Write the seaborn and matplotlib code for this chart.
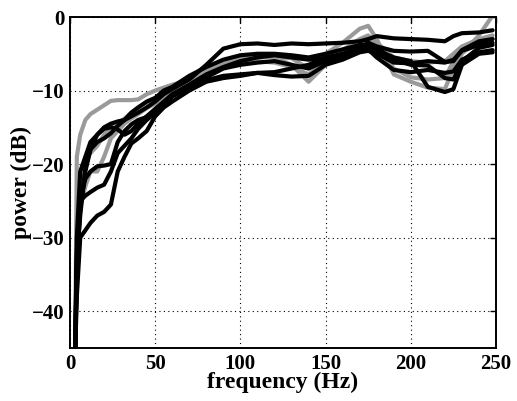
import matplotlib
matplotlib.use("Agg")
import matplotlib.pyplot as plt
import seaborn as sns

freq = [3, 4, 6, 9, 12, 16, 20, 24, 28, 32, 36, 40, 45, 50, 55, 60, 70, 80, 90, 100,
        110, 120, 130, 140, 150, 160, 170, 175, 180, 190, 200, 210, 220, 225, 230, 240, 248]

# gray curves
gray_1 = [-46, -19, -16, -14, -13.2, -12.6, -12, -11.4, -11.3, -11.3, -11.3, -11.2, -10.5, -10.0, -9.6, -9.2,
          -8.6, -7.2, -6.2, -5.6, -5.4, -5.4, -5.6, -7.0, -5.0, -3.5, -1.6, -1.2, -3.0, -7.8, -8.8, -9.6,
          -9.8, -7.0, -5.0, -2.5, 0.2]
gray_2 = [-46, -28, -22, -19.5, -18.5, -17.5, -16, -15, -14.5, -13.8, -13, -12.3, -11.6, -11.0, -10.4, -9.8,
          -8.8, -7.6, -6.3, -5.6, -5.4, -5.5, -6.5, -8.8, -6.5, -4.5, -3.0, -2.5, -3.5, -5.5, -6.0, -6.2,
          -6.0, -5.0, -4.0, -3.0, -2.5]
gray_3 = [-46, -30, -26, -23, -21, -21, -19, -16.5, -15.5, -14.5, -13.8, -13.2, -12.4, -11.8, -10.8, -10.0,
          -9.0, -8.0, -6.6, -6.2, -6.0, -6.2, -6.8, -7.8, -6.0, -5.0, -3.8, -3.0, -4.0, -7.0, -8.2, -8.5,
          -8.3, -6.0, -4.8, -3.6, -3.0]

# black curves
black_1 = [-46, -34, -26, -21, -18, -16, -15, -14.5, -14.2, -14, -13.5, -13, -12.3, -11.5, -10.5, -9.8,
           -8.5, -6.5, -4.3, -3.7, -3.6, -3.8, -3.6, -3.7, -3.6, -3.5, -3.3, -3.0, -2.6, -2.9, -3.0, -3.1,
           -3.3, -2.6, -2.2, -2.1, -1.8]
black_2 = [-46, -38, -30, -29, -28, -27, -26.5, -25.5, -21, -19, -17.2, -16.5, -15.5, -13.5, -12.3, -11.5,
           -10.0, -8.8, -8.3, -8.0, -7.6, -7.5, -7.0, -6.5, -5.5, -5.0, -4.2, -4.0, -4.5, -5.5, -6.0, -9.5,
           -10.2, -9.8, -6.5, -5.0, -4.8]
black_3 = [-46, -32, -25, -22, -21, -20.3, -20.2, -20, -17, -15.5, -14.6, -14, -13.6, -13.4, -12.2, -10.7,
           -9.4, -8.6, -8.0, -7.8, -7.6, -7.9, -8.1, -8.0, -6.5, -5.8, -4.8, -4.6, -5.0, -6.2, -6.3, -6.0,
           -6.2, -5.8, -4.6, -3.8, -3.5]
black_4 = [-46, -30, -21, -19, -17, -16, -15.2, -15, -15.3, -16, -15.5, -14.5, -13.5, -12.5, -11.5, -10.5,
           -9.2, -7.8, -6.8, -6.0, -5.5, -5.2, -5.5, -5.8, -5.6, -5.2, -4.2, -3.5, -4.0, -4.6, -4.7, -4.6,
           -6.1, -6.0, -4.5, -3.3, -3.0]
black_5 = [-46, -35, -25, -24.3, -23.8, -23.2, -22.8, -21, -18.5, -17.5, -16.5, -15.2, -14, -13, -11.8, -10.8,
           -9.6, -8.2, -7.0, -6.5, -6.2, -6.0, -6.5, -7.0, -6.0, -5.5, -4.6, -4.4, -5.5, -7.2, -7.5, -7.2,
           -7.6, -7.4, -5.8, -4.8, -4.5]
black_6 = [-46, -33, -27, -20.5, -18, -17, -16.5, -15.8, -14.8, -14.0, -13.0, -12.3, -11.5, -11.0, -10.0, -9.5,
           -8.0, -6.8, -5.8, -5.2, -5.0, -5.0, -5.2, -5.5, -5.0, -4.4, -3.8, -3.8, -4.2, -5.8, -6.5, -6.6,
           -8.3, -8.5, -6.0, -4.2, -3.8]

gray_curves = [gray_1, gray_2, gray_3]
black_curves = [black_1, black_2, black_3, black_4, black_5, black_6]

xticks = [0, 50, 100, 150, 200, 250]
yticks = [-40, -30, -20, -10, 0]

sns.set_style("white")
plt.rcParams["font.family"] = ["Liberation Serif", "DejaVu Serif"]
plt.rcParams["text.color"] = "black"
plt.rcParams["axes.labelcolor"] = "black"
plt.rcParams["xtick.color"] = "black"
plt.rcParams["ytick.color"] = "black"

fig = plt.figure(figsize=(5.17, 4.01), dpi=100)
ax = fig.add_axes([0.1354, 0.1322, 0.824, 0.8254])

for vals in gray_curves:
    sns.lineplot(x=freq, y=vals, ax=ax, color="#9a9a9a", lw=3.0, estimator=None, sort=False)
for vals in black_curves:
    sns.lineplot(x=freq, y=vals, ax=ax, color="black", lw=3.0, estimator=None, sort=False)

ax.set_xlim(0, 250)
ax.set_ylim(-45, 0)
ax.set_xticks(xticks)
ax.set_yticks(yticks)
ax.set_xticklabels([str(t) for t in xticks], fontsize=15, fontweight="bold")
ax.set_yticklabels([f"\u2212{abs(t)}" if t < 0 else str(t) for t in yticks], fontsize=15, fontweight="bold")
ax.grid(True, linestyle=(0, (1, 3)), color="black", lw=0.8)
ax.tick_params(direction="in", length=4, top=True, right=True, width=1, pad=4, colors="black")
for s in ax.spines.values():
    s.set_visible(True)
    s.set_color("black")
    s.set_linewidth(1.4)

ax.set_xlabel("frequency (Hz)", fontsize=17, fontweight="bold", labelpad=-1, color="black")
ax.set_ylabel("power (dB)", fontsize=17, fontweight="bold", labelpad=0, color="black")

fig.savefig("out.png", dpi=100)
